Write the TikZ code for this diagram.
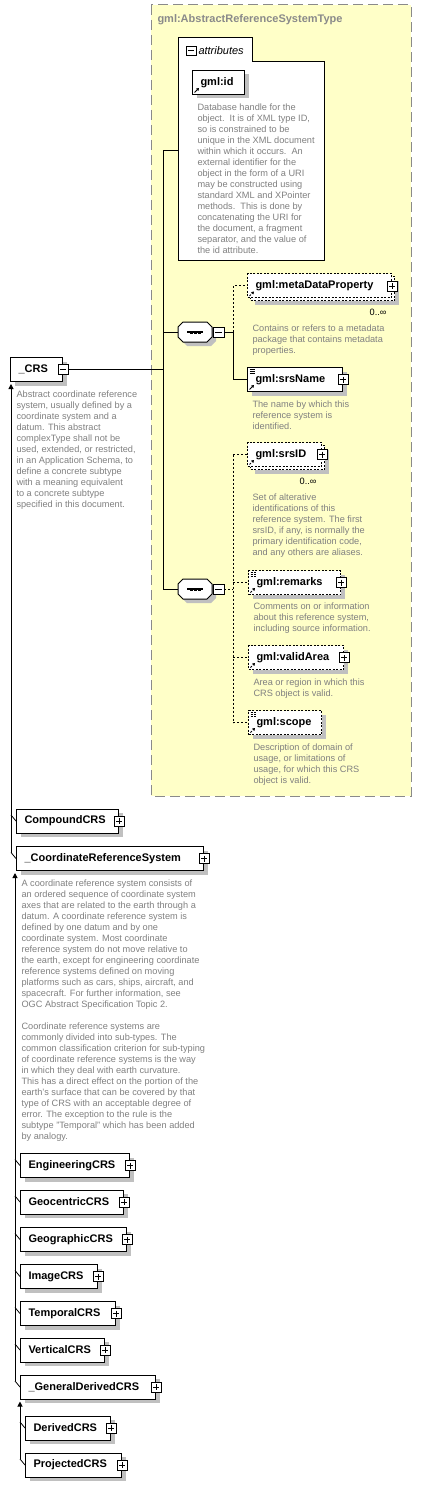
\documentclass[tikz,border=0pt]{standalone}
\usepackage{fontspec}
\setmainfont{Liberation Sans}
\usetikzlibrary{positioning, calc, arrows.meta, shadows}

\definecolor{typebg}{HTML}{FFFFC8}
\definecolor{typeline}{HTML}{8A8A8A}
\definecolor{descgray}{HTML}{808080}
\definecolor{shadowgray}{HTML}{C0C0C0}

\newcommand{\elemfont}{\bfseries\fontsize{11}{13}\selectfont}
\newcommand{\descfont}{\fontsize{9.2}{11}\selectfont}

% sequence compositor drawn round an (invisible) node
\newcommand{\seqsymbol}[1]{%
  \begin{scope}[shift={(#1.center)}]
    \fill[shadowgray, shift={(4,4)}] (-17,-5) -- (-12,-10) -- (12,-10) -- (17,-5) -- (17,5) -- (12,10) -- (-12,10) -- (-17,5) -- cycle;
    \draw[fill=white] (-17,-5) -- (-12,-10) -- (12,-10) -- (17,-5) -- (17,5) -- (12,10) -- (-12,10) -- (-17,5) -- cycle;
    \draw[line width=1.2pt] (-8,0) -- (8,0);
    \foreach \k in {-4,0,4}
      \fill (\k-1.5,-1.5) rectangle (\k+1.5,1.5);
  \end{scope}}

\tikzset{
  elembase/.style={draw, line width=1pt, fill=white, anchor=west, minimum height=24pt,
    inner xsep=8pt, inner ysep=0pt, align=left, font=\elemfont},
  boxw/.code={\pgfmathsetlengthmacro\elemtw{#1pt-16pt}\pgfkeysalso{text width=\elemtw}},
  elem/.style={elembase, drop shadow={shadow xshift=4pt, shadow yshift=-4pt, fill=shadowgray, opacity=1}},
  optelem/.style={elem, dash pattern=on 2pt off 1.5pt},
  multielem/.style={elembase, dash pattern=on 2pt off 1.5pt,
    drop shadow={shadow xshift=7pt, shadow yshift=-7pt, fill=shadowgray, opacity=1},
    copy shadow={shadow xshift=3pt, shadow yshift=-3pt, draw=black, fill=white,
      line width=1pt, dash pattern=on 2pt off 1.5pt}},
  refmark/.style={path picture={
    \draw[line width=0.8pt, -{Triangle[length=2.5pt, width=3pt]}]
      ([shift={(2pt,2pt)}]path picture bounding box.south west) -- ++(4.5pt,4.5pt);}},
  reftext/.style={path picture={
    \draw[line width=0.8pt, -{Triangle[length=2.5pt, width=3pt]}]
      ([shift={(2pt,2pt)}]path picture bounding box.south west) -- ++(4.5pt,4.5pt);
    \foreach \k in {2,4,6}
      \draw[line width=0.6pt] ([shift={(2pt,-\k pt)}]path picture bounding box.north west) -- ++(5pt,0pt);}},
  pmbox/.style={draw, fill=white, line width=0.8pt, minimum width=10pt, minimum height=10pt, inner sep=0pt},
  plusbox/.style={pmbox, path picture={
    \draw[line width=0.8pt] ([yshift=-2pt]path picture bounding box.north) -- ([yshift=2pt]path picture bounding box.south)
      ([xshift=2pt]path picture bounding box.west) -- ([xshift=-2pt]path picture bounding box.east);}},
  minusbox/.style={pmbox, path picture={
    \draw[line width=0.8pt] ([xshift=2pt]path picture bounding box.west) -- ([xshift=-2pt]path picture bounding box.east);}},
  seq/.style={minimum width=34pt, minimum height=20pt, inner sep=0pt},
  desc/.style={anchor=north west, inner sep=0pt, align=left, font=\descfont, text=descgray},
  occ/.style={anchor=east, inner sep=0pt, font=\descfont},
  typetitle/.style={anchor=west, inner sep=0pt, font=\elemfont, text=typeline},
  grouplabel/.style={anchor=west, inner sep=0pt, font=\itshape\fontsize{11}{13}\selectfont},
  conn/.style={line width=1pt},
  optconn/.style={line width=1pt, dash pattern=on 2pt off 2pt},
  inh/.style={line width=1pt, -{Triangle[length=5pt, width=5pt]}},
  tick/.style={line width=0.8pt}
}

\begin{document}
\begin{tikzpicture}[x=1pt, y=-1pt, line width=1pt]
  \useasboundingbox (0,0) rectangle (422,1487);

  % complex type container
  \draw[typeline, fill=typebg, dash pattern=on 10pt off 5pt] (151,5) rectangle (411,796);
  \node[typetitle] (typeName) at (157,19.5) {gml:AbstractReferenceSystemType};

  % attributes group
  \draw[fill=white] (178,261) -- (178,38) -- (252,38) -- (252,62) -- (324,62) -- (324,261) -- cycle;
  \coordinate (attrW) at (178,151);
  \node[minusbox, minimum height=9pt] (attrPm) at (191,50.5) {};
  \node[grouplabel] (attrLabel) at (198,50.5) {attributes};
  \node[elem, boxw=52, refmark] (gmlId) at (192,82.5) {gml:id};
  \node[desc] (gmlIdDesc) at (197,103) {Database handle for the\\object.\ \ It is of XML type ID,\\so is constrained to be\\unique in the XML document\\within which it occurs.\ \ An\\external identifier for the\\object in the form of a URI\\may be constructed using\\standard XML and XPointer\\methods.\ \ This is done by\\concatenating the URI for\\the document, a fragment\\separator, and the value of\\the id attribute.};

  % first sequence
  \node[seq] (seqA) at (195,332) {};
  \seqsymbol{seqA}
  \node[minusbox, anchor=west, minimum width=11pt] (seqAm) at (seqA.east) {};
  \node[multielem, boxw=144, refmark] (meta) at (247,286) {gml:metaDataProperty};
  \node[plusbox] (metaPm) at (meta.east) {};
  \node[occ] (metaOcc) at ($(meta.south east)+(-5,14)$) {0..∞};
  \node[desc] (metaDesc) at (252,324) {Contains or refers to a metadata\\package that contains metadata\\properties.};
  \node[elem, boxw=95, reftext] (srsName) at (247,379.5) {gml:srsName};
  \node[plusbox] (srsNamePm) at (srsName.east) {};
  \node[desc] (srsNameDesc) at (252,400) {The name by which this\\reference system is\\identified.};

  % second sequence
  \node[seq] (seqB) at (195,589) {};
  \seqsymbol{seqB}
  \node[minusbox, anchor=west, minimum width=11pt] (seqBm) at (seqB.east) {};
  \node[multielem, boxw=74, refmark] (srsID) at (247,454.5) {gml:srsID};
  \node[plusbox] (srsIDPm) at (srsID.east) {};
  \node[occ] (srsIDOcc) at ($(srsID.south east)+(-5,14)$) {0..∞};
  \node[desc] (srsIDDesc) at (252,493) {Set of alterative\\identifications of this\\reference system. The first\\srsID, if any, is normally the\\primary identification code,\\and any others are aliases.};
  \node[optelem, boxw=92, reftext] (remarks) at (248,582.5) {gml:remarks};
  \node[plusbox] (remarksPm) at (remarks.east) {};
  \node[desc] (remarksDesc) at (253,602) {Comments on or information\\about this reference system,\\including source information.};
  \node[optelem, boxw=95, refmark] (validArea) at (248,657.5) {gml:validArea};
  \node[plusbox] (validAreaPm) at (validArea.east) {};
  \node[desc] (validAreaDesc) at (253,678) {Area or region in which this\\CRS object is valid.};
  \node[optelem, boxw=73, reftext] (scope) at (248,722.5) {gml:scope};
  \node[desc] (scopeDesc) at (253,743) {Description of domain of\\usage, or limitations of\\usage, for which this CRS\\object is valid.};

  % _CRS and its content model
  \node[elem, boxw=52] (crs) at (10,369.5) {\_CRS};
  \node[minusbox] (crsPm) at (crs.east) {};
  \node[desc] (crsDesc) at (16,390) {Abstract coordinate reference\\system, usually defined by a\\coordinate system and a\\datum. This abstract\\complexType shall not be\\used, extended, or restricted,\\in an Application Schema, to\\define a concrete subtype\\with a meaning equivalent\\to a concrete subtype\\specified in this document.};
  \coordinate (jCrs) at (163,369.5);
  \coordinate (jSeqA) at (jCrs |- seqA.west);
  \coordinate (jSeqB) at (jCrs |- seqB.west);
  \draw[conn] (crsPm.east) -- (jCrs);
  \draw[conn] (attrW) -| (jSeqB);
  \draw[conn] (jSeqA) -- ([xshift=-17pt]seqA.center);
  \draw[conn] (jSeqB) -- ([xshift=-17pt]seqB.center);

  % branches of the sequences
  \coordinate (bA) at ($(seqAm.east)+(9,0)$);
  \draw[conn] (seqAm.east) -- (bA) |- (srsName.west);
  \draw[optconn] (bA) |- (meta.west);
  \coordinate (bB) at ($(seqBm.east)+(9,0)$);
  \draw[optconn] (seqBm.east) -- (bB);
  \draw[optconn] (bB |- srsID.west) -- (bB |- scope.west);
  \foreach \e in {srsID, remarks, validArea, scope}
    \draw[optconn] (bB |- \e.west) -- (\e.west);

  % derived types of _CRS
  \node[elem, boxw=102] (compound) at (16,821) {CompoundCRS};
  \node[plusbox] (compoundPm) at (compound.east) {};
  \node[elem, boxw=187] (coordRS) at (16,858.5) {\_CoordinateReferenceSystem};
  \node[plusbox] (coordRSPm) at (coordRS.east) {};
  \node[desc] (coordRSDesc) at (21,879) {A coordinate reference system consists of\\an ordered sequence of coordinate system\\axes that are related to the earth through a\\datum. A coordinate reference system is\\defined by one datum and by one\\coordinate system. Most coordinate\\reference system do not move relative to\\the earth, except for engineering coordinate\\reference systems defined on moving\\platforms such as cars, ships, aircraft, and\\spacecraft. For further information, see\\OGC Abstract Specification Topic 2.\\[11pt]Coordinate reference systems are\\commonly divided into sub-types. The\\common classification criterion for sub-typing\\of coordinate reference systems is the way\\in which they deal with earth curvature.\\This has a direct effect on the portion of the\\earth's surface that can be covered by that\\type of CRS with an acceptable degree of\\error. The exception to the rule is the\\subtype "Temporal" which has been added\\by analogy.};
  \foreach \c in {compound, coordRS}
    \draw[tick] ($(\c.west)+(-5,-6)$) -- (\c.west);
  \draw[inh] ($(coordRS.west)+(-5,-6)$) -- ($(crs.south -| coordRS.west)+(-5,2)$);

  % derived types of _CoordinateReferenceSystem
  \node[elem, boxw=109] (engCRS) at (20,1165.5) {EngineeringCRS};
  \node[elem, boxw=103] (geocCRS) at (20,1202) {GeocentricCRS};
  \node[elem, boxw=106] (geogCRS) at (20,1239.5) {GeographicCRS};
  \node[elem, boxw=77] (imageCRS) at (20,1276.5) {ImageCRS};
  \node[elem, boxw=95] (tempCRS) at (20,1313.5) {TemporalCRS};
  \node[elem, boxw=84] (vertCRS) at (20,1350) {VerticalCRS};
  \node[elem, boxw=135] (genDer) at (20,1387) {\_GeneralDerivedCRS};
  \foreach \c in {engCRS, geocCRS, geogCRS, imageCRS, tempCRS, vertCRS, genDer} {
    \node[plusbox] (\c Pm) at (\c.east) {};
    \draw[tick] ($(\c.west)+(-5,-6)$) -- (\c.west);
  }
  \draw[inh] ($(genDer.west)+(-5,-6)$) -- ($(coordRS.south -| genDer.west)+(-5,2)$);

  % derived types of _GeneralDerivedCRS
  \node[elem, boxw=85] (derCRS) at (25,1428) {DerivedCRS};
  \node[elem, boxw=96] (projCRS) at (25,1465) {ProjectedCRS};
  \foreach \c in {derCRS, projCRS} {
    \node[plusbox] (\c Pm) at (\c.east) {};
    \draw[tick] ($(\c.west)+(-5,-6)$) -- (\c.west);
  }
  \draw[inh] ($(projCRS.west)+(-5,-6)$) -- ($(genDer.south -| projCRS.west)+(-5,2)$);

\end{tikzpicture}
\end{document}
